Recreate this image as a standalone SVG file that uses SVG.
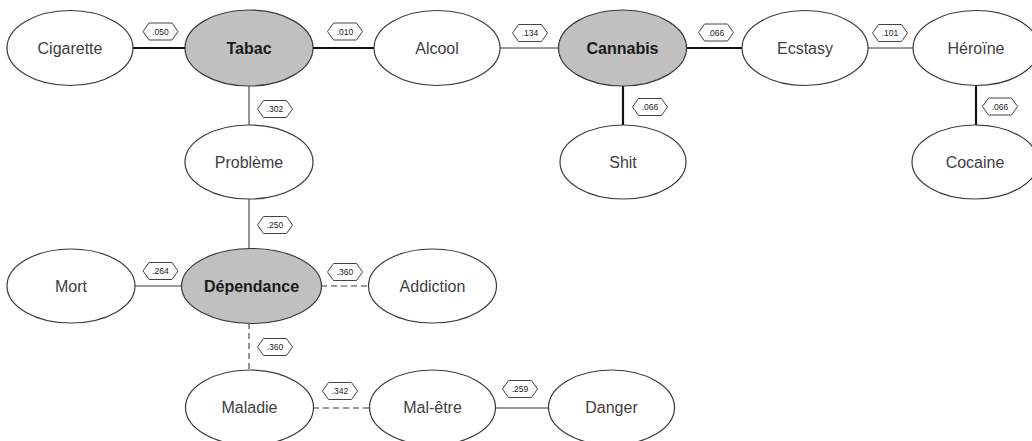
<svg xmlns="http://www.w3.org/2000/svg" width="1032" height="441" viewBox="0 0 1032 441">
<defs>
<style>
.n ellipse{fill:#fff;stroke:#3a3a3a;stroke-width:1.2}
.n.k ellipse{fill:#c0c0c0}
.n text{font-family:"Liberation Sans",Arial,sans-serif;font-size:16px;fill:#404040;text-anchor:middle}
.n.k text{font-weight:bold;fill:#1a1a1a}
.e line{fill:none}
.s{stroke:#111;stroke-width:2.2}
.t{stroke:#7a7a7a;stroke-width:1.6}
.d{stroke:#7a7a7a;stroke-width:1.6;stroke-dasharray:6 4}
.w use{fill:#fff;stroke:#444;stroke-width:1}
.w text{font-family:"Liberation Sans",Arial,sans-serif;font-size:8.5px;fill:#222;text-anchor:middle}
</style>
<polygon id="hex" points="-17.5,0 -11.5,-8.5 11.5,-8.5 17.5,0 11.5,8.5 -11.5,8.5"/>
</defs>
<rect width="1032" height="441" fill="#fff"/>
<g id="connectors" class="e">
<line class="s" x1="133" y1="48" x2="186" y2="48"/>
<line class="s" x1="312" y1="48" x2="374" y2="48"/>
<line class="t" x1="500" y1="48" x2="559" y2="48"/>
<line class="s" x1="686" y1="48" x2="742" y2="48"/>
<line class="t" x1="868" y1="48" x2="913" y2="48"/>
<line class="s" x1="976" y1="86" x2="976" y2="125"/>
<line class="s" x1="623" y1="86" x2="623" y2="125"/>
<line class="t" x1="249" y1="86" x2="249" y2="125"/>
<line class="t" x1="249" y1="199" x2="249" y2="249"/>
<line class="t" x1="134" y1="286" x2="182" y2="286"/>
<line class="d" x1="321" y1="286" x2="369" y2="286"/>
<line class="d" x1="249" y1="323" x2="249" y2="370"/>
<line class="d" x1="313" y1="408" x2="370" y2="408"/>
<line class="t" x1="495" y1="408" x2="549" y2="408"/>
<g class="w">
<g transform="translate(160.5,31.5)"><use href="#hex"/><text y="3">.050</text></g>
<g transform="translate(345,31.5)"><use href="#hex"/><text y="3">.010</text></g>
<g transform="translate(530,33)"><use href="#hex"/><text y="3">.134</text></g>
<g transform="translate(716,32.5)"><use href="#hex"/><text y="3">.066</text></g>
<g transform="translate(890,33)"><use href="#hex"/><text y="3">.101</text></g>
<g transform="translate(1000,106.5)"><use href="#hex"/><text y="3">.066</text></g>
<g transform="translate(650,107)"><use href="#hex"/><text y="3">.066</text></g>
<g transform="translate(275,109)"><use href="#hex"/><text y="3">.302</text></g>
<g transform="translate(275,225)"><use href="#hex"/><text y="3">.250</text></g>
<g transform="translate(160.5,271)"><use href="#hex"/><text y="3">.264</text></g>
<g transform="translate(345,272)"><use href="#hex"/><text y="3">.360</text></g>
<g transform="translate(275,347)"><use href="#hex"/><text y="3">.360</text></g>
<g transform="translate(340,391)"><use href="#hex"/><text y="3">.342</text></g>
<g transform="translate(520,389)"><use href="#hex"/><text y="3">.259</text></g>
</g>
</g>
<g id="cigarette" class="n"><ellipse cx="70" cy="48" rx="63" ry="37.5"/><text x="70" y="53.5">Cigarette</text></g>
<g id="tabac" class="n k"><ellipse cx="249" cy="48" rx="64" ry="38"/><text x="249" y="53.5">Tabac</text></g>
<g id="alcool" class="n"><ellipse cx="437" cy="48" rx="63" ry="37.5"/><text x="437" y="53.5">Alcool</text></g>
<g id="cannabis" class="n k"><ellipse cx="622.5" cy="48" rx="64" ry="38"/><text x="622.5" y="53.5">Cannabis</text></g>
<g id="ecstasy" class="n"><ellipse cx="805" cy="48" rx="63" ry="37.5"/><text x="805" y="53.5">Ecstasy</text></g>
<g id="heroine" class="n"><ellipse cx="976" cy="48" rx="63" ry="37.5"/><text x="976" y="53.5">Héroïne</text></g>
<g id="cocaine" class="n"><ellipse cx="975" cy="162" rx="63" ry="37"/><text x="975" y="167.5">Cocaine</text></g>
<g id="shit" class="n"><ellipse cx="623" cy="162" rx="63" ry="37"/><text x="623" y="167.5">Shit</text></g>
<g id="probleme" class="n"><ellipse cx="249" cy="162" rx="64" ry="37"/><text x="249" y="167.5">Problème</text></g>
<g id="mort" class="n"><ellipse cx="71" cy="286" rx="64" ry="37"/><text x="71" y="291.5">Mort</text></g>
<g id="dependance" class="n k"><ellipse cx="251.5" cy="286" rx="70" ry="37.5"/><text x="251.5" y="291.5">Dépendance</text></g>
<g id="addiction" class="n"><ellipse cx="432.5" cy="286" rx="64" ry="37"/><text x="432.5" y="291.5">Addiction</text></g>
<g id="maladie" class="n"><ellipse cx="249.5" cy="407.5" rx="64" ry="37.5"/><text x="249.5" y="413">Maladie</text></g>
<g id="mal-etre" class="n"><ellipse cx="432.5" cy="407.5" rx="63" ry="37.5"/><text x="432.5" y="413">Mal-être</text></g>
<g id="danger" class="n"><ellipse cx="611.5" cy="407.5" rx="63" ry="37.5"/><text x="611.5" y="413">Danger</text></g>
</svg>
